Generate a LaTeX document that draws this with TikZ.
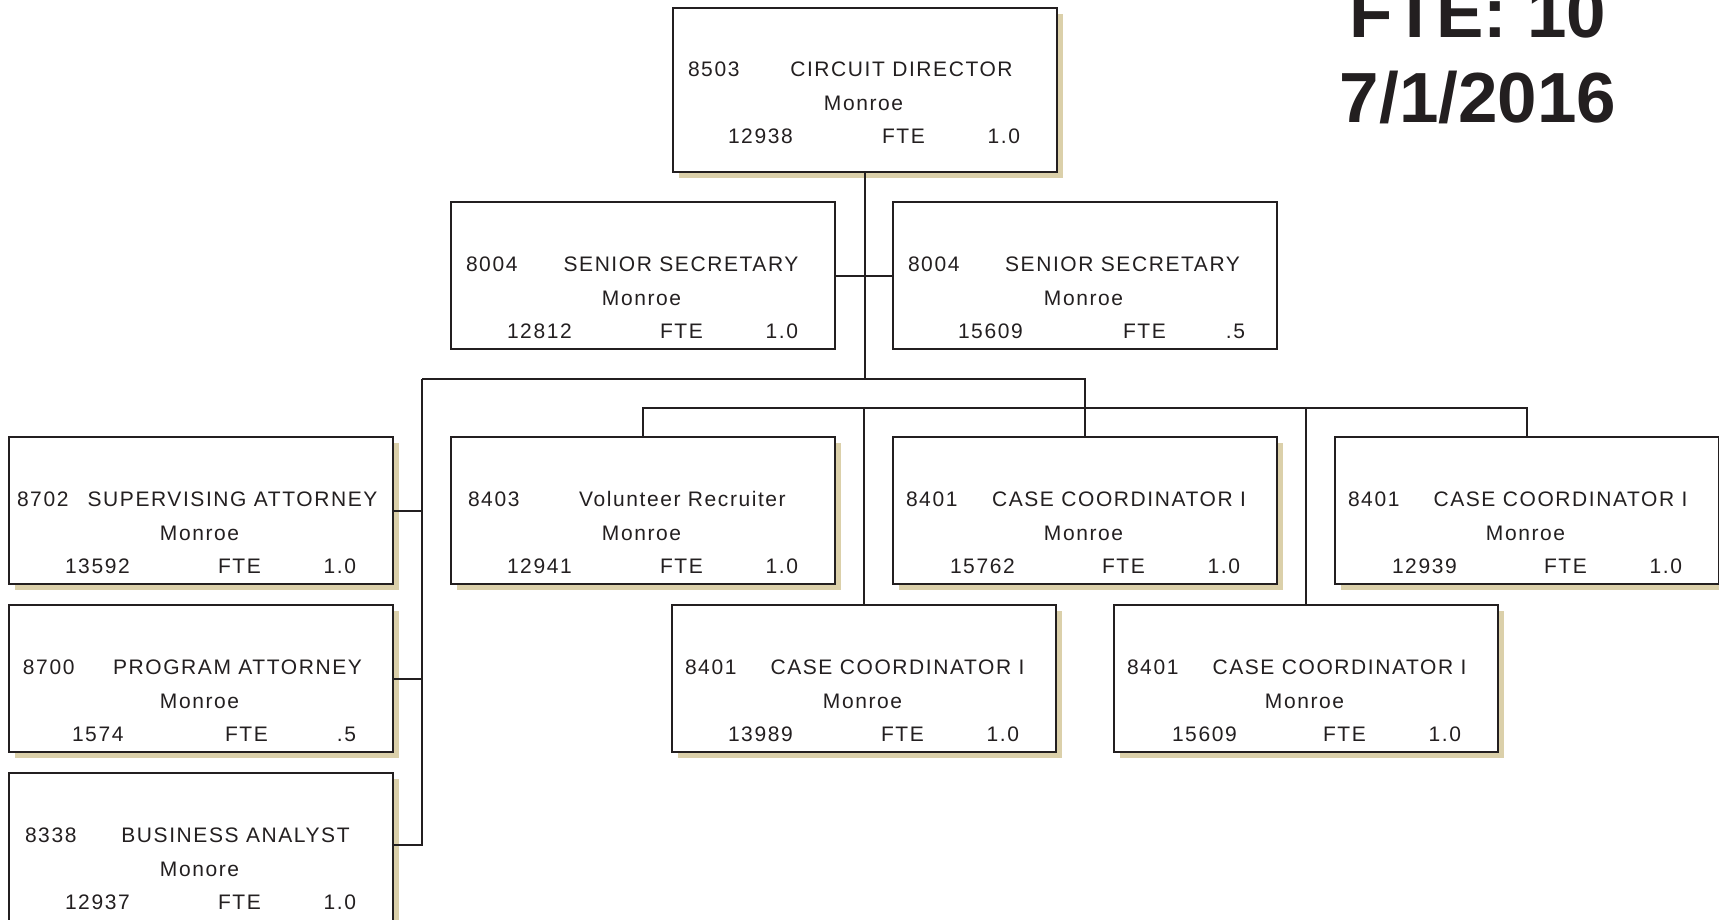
\documentclass[tikz,border=0pt]{standalone}
\usepackage{fontspec}
\setmainfont{Liberation Sans}
\newfontfamily\boxfont{Liberation Sans}[LetterSpace=7.5]
\usetikzlibrary{shadows}

\definecolor{ink}{RGB}{35,31,32}
\definecolor{shadetan}{RGB}{219,208,170}

% default column positions on the bottom line of a position box
\newcommand\ftex{209}
\newcommand\valx{347}

% #1 name, #2 code, #3 code x, #4 title, #5 title centre x,
% #6 location, #7 position number, #8 number x, #9 FTE value
\newcommand\orgtext[9]{%
  \node[lbl, anchor=base west] (#1-code)  at (#3,-69)     {#2};
  \node[lbl, anchor=base]      (#1-title) at (#5,-69)     {#4};
  \node[lbl, anchor=base]      (#1-loc)   at (190.5,-103) {#6};
  \node[lbl, anchor=base west] (#1-num)   at (#8,-136)    {#7};
  \node[lbl, anchor=base west] (#1-fte)   at (\ftex,-136) {FTE};
  \node[lbl, anchor=base east] (#1-val)   at (\valx,-136) {#9};
}

\tikzset{
  orgbox/.style={rectangle, draw=ink, line width=2.6pt, fill=white,
    inner sep=0pt, outer sep=0pt, minimum width=384pt,
    minimum height=147pt, anchor=north west},
  shadowbox/.style={orgbox,
    general shadow={fill=shadetan, shadow xshift=6pt, shadow yshift=-6pt}},
  plainbox/.style={orgbox, line width=2.2pt},
  lbl/.style={inner sep=0pt, outer sep=0pt, text=ink,
    font=\boxfont\fontsize{21}{25}\selectfont},
  headline/.style={inner sep=0pt, outer sep=0pt, text=ink, anchor=base,
    font=\fontsize{71}{85}\selectfont\bfseries},
  conn/.style={draw=ink, line width=2pt},
}

\begin{document}
\begin{tikzpicture}[x=1pt, y=1pt]
\useasboundingbox (0,0) rectangle (1719,-920);

% headline
\node[headline] (fte) at (1478,-38) {FTE: 10};
\node[headline] (date) at (1478,-123) {7/1/2016};

% circuit director
\begin{scope}[shift={(673,-8)}]
  \node[shadowbox, minimum height=164pt] (cd) at (0,0) {};
  \orgtext{cd}{8503}{15}{CIRCUIT DIRECTOR}{228.5}{Monroe}{12938}{55}{1.0}
\end{scope}

% secretaries
\begin{scope}[shift={(451,-202)}]
  \node[plainbox] (ss1) at (0,0) {};
  \orgtext{ss1}{8004}{15}{SENIOR SECRETARY}{230}{Monroe}{12812}{56}{1.0}
\end{scope}
\begin{scope}[shift={(893,-202)}]
  \renewcommand\ftex{230}\renewcommand\valx{352}
  \node[plainbox] (ss2) at (0,0) {};
  \orgtext{ss2}{8004}{15}{SENIOR SECRETARY}{229.5}{Monroe}{15609}{65}{.5}
\end{scope}

% legal and analysis column
\begin{scope}[shift={(9,-437)}]
  \node[shadowbox] (sa) at (0,0) {};
  \orgtext{sa}{8702}{8}{SUPERVISING ATTORNEY}{223.5}{Monroe}{13592}{56}{1.0}
\end{scope}
\begin{scope}[shift={(9,-605)}]
  \renewcommand\ftex{216}
  \node[shadowbox] (pa) at (0,0) {};
  \orgtext{pa}{8700}{14}{PROGRAM ATTORNEY}{228.5}{Monroe}{1574}{63}{.5}
\end{scope}
\begin{scope}[shift={(9,-773)}]
  \node[shadowbox, minimum height=152pt] (ba) at (0,0) {};
  \orgtext{ba}{8338}{16}{BUSINESS ANALYST}{226.5}{Monore}{12937}{56}{1.0}
\end{scope}

% recruiter and case coordinators
\begin{scope}[shift={(451,-437)}]
  \node[shadowbox] (vr) at (0,0) {};
  \orgtext{vr}{8403}{17}{Volunteer Recruiter}{231.5}{Monroe}{12941}{56}{1.0}
\end{scope}
\begin{scope}[shift={(893,-437)}]
  \node[shadowbox] (cc2) at (0,0) {};
  \orgtext{cc2}{8401}{13}{CASE COORDINATOR I}{226}{Monroe}{15762}{57}{1.0}
\end{scope}
\begin{scope}[shift={(1335,-437)}]
  \node[shadowbox] (cc5) at (0,0) {};
  \orgtext{cc5}{8401}{13}{CASE COORDINATOR I}{225.5}{Monroe}{12939}{57}{1.0}
\end{scope}
\begin{scope}[shift={(672,-605)}]
  \node[shadowbox] (cc3) at (0,0) {};
  \orgtext{cc3}{8401}{13}{CASE COORDINATOR I}{225.5}{Monroe}{13989}{56}{1.0}
\end{scope}
\begin{scope}[shift={(1114,-605)}]
  \node[shadowbox] (cc4) at (0,0) {};
  \orgtext{cc4}{8401}{13}{CASE COORDINATOR I}{225.5}{Monroe}{15609}{58}{1.0}
\end{scope}

% reporting lines
\coordinate (bus1) at (422,-379);
\coordinate (bus2) at (0,-408);
\draw[conn] (cd.south) -- (cd.south |- bus1);
\draw[conn] (ss1.east) -- (ss2.west);
\draw[conn] (bus1) -- (cc2.north |- bus1) -- (cc2.north);
\draw[conn] (vr.north) -- (vr.north |- bus2) -- (cc5.north |- bus2) -- (cc5.north);
\draw[conn] (cc3.north) -- (cc3.north |- bus2);
\draw[conn] (cc4.north) -- (cc4.north |- bus2);
\draw[conn] (bus1) |- ([yshift=4pt]ba.east);
\draw[conn] (sa.east) -- (sa.east -| bus1);
\draw[conn] (pa.east) -- (pa.east -| bus1);
\end{tikzpicture}
\end{document}
